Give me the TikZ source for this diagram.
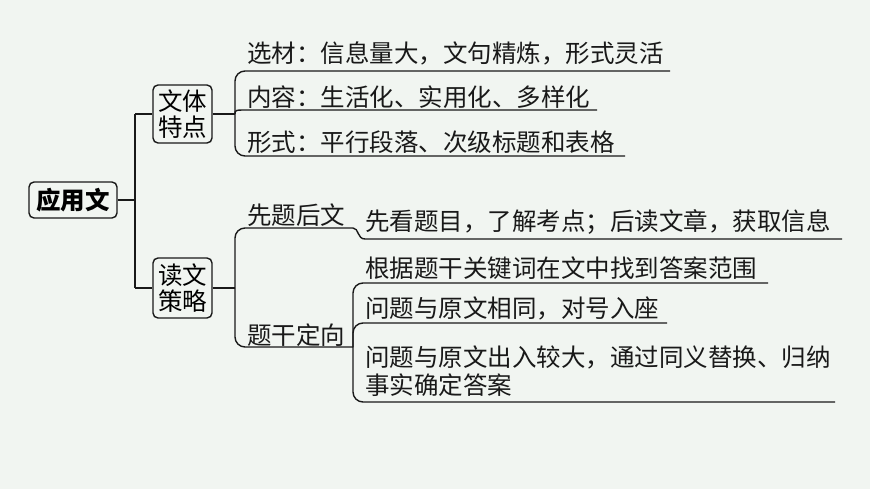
\documentclass[tikz,border=0pt]{standalone}
\usepackage{fontspec}
\newfontfamily\cjk{Noto Sans CJK SC}
\definecolor{bgc}{RGB}{241,245,241}
\definecolor{ink}{RGB}{25,25,25}
\begin{document}
\begin{tikzpicture}[x=1pt,y=-1pt,
  ln/.style={draw=ink,line width=1.4pt},
  rc/.style={ln,rounded corners=10pt},
  box/.style={draw=ink,line width=1.4pt,rounded corners=5pt,inner sep=0pt,align=center,font=\cjk\fontsize{24.5}{26.5}\selectfont},
  txt/.style={anchor=west,inner sep=0pt,align=left,font=\cjk\fontsize{24.5}{28}\selectfont,text=ink}]
\fill[bgc] (0,0) rectangle (870,489);
\useasboundingbox (0,0) rectangle (870,489);
% boxes
\node[box,minimum width=88pt,minimum height=36pt,font=\cjk\bfseries\fontsize{24.5}{26.5}\selectfont] (root) at (73,200) {应用文};
\node[box,minimum width=59pt,minimum height=58pt] (b1) at (182.5,114) {文体\\特点};
\node[box,minimum width=59pt,minimum height=60pt] (b2) at (182.5,288) {读文\\策略};
% top texts
\node[txt] (t1) at (247,53) {选材：信息量大，文句精炼，形式灵活};
\node[txt] (t2) at (247,97) {内容：生活化、实用化、多样化};
\node[txt] (t3) at (247,142) {形式：平行段落、次级标题和表格};
% bottom texts
\node[txt] (s1) at (247,215) {先题后文};
\node[txt] (s2) at (247,335) {题干定向};
\node[txt] (c1) at (365,222) {先看题目，了解考点；后读文章，获取信息};
\node[txt] (c2) at (365,268) {根据题干关键词在文中找到答案范围};
\node[txt] (c3) at (365,308) {问题与原文相同，对号入座};
\node[txt] (c4) at (365,371) {问题与原文出入较大，通过同义替换、归纳\\事实确定答案};
% coordinates
\coordinate (j0) at (135,200);
\coordinate (pA) at (235,114);
\coordinate (pB) at (235,288);
\coordinate (q1) at (353,228);
\coordinate (q2) at (353,347);
\coordinate (r1) at (365,239);
\coordinate (m2) at (248,110);
\coordinate (e1) at (670,71);
\coordinate (e2) at (597,110);
\coordinate (e3) at (625,156);
\coordinate (ec1) at (842,239);
\coordinate (ec2) at (768,283);
\coordinate (ec3) at (667,323);
\coordinate (ec4) at (835,402);
% connectors
\draw[ln] (root.east) -- (j0);
\draw[ln] (j0 |- b1.west) -- (j0 |- b2.west);
\draw[ln] (j0 |- b1.west) -- (b1.west);
\draw[ln] (j0 |- b2.west) -- (b2.west);
\draw[ln] (b1.east) -- (pA);
\draw[ln] (b2.east) -- (pB);
% top bracket
\draw[rc] (pA) |- (e1);
\draw[ln] (pA) .. controls (235,110) .. (m2) -- (e2);
\draw[rc] (pA) |- (e3);
% bottom bracket
\draw[rc] (pB) |- (q1);
\draw[ln] (q1) .. controls (359,228) and (357,239) .. (r1) -- (ec1);
\draw[rc] (pB) |- (q2);
\draw[rc] (q2) |- (ec2);
\draw[rc] (q2) |- (ec3);
\draw[rc] (q2) |- (ec4);
\end{tikzpicture}
\end{document}
